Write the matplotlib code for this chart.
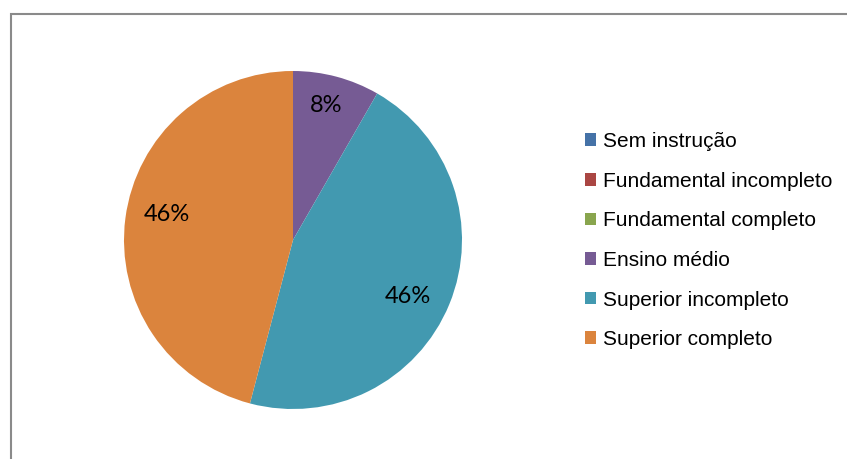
import numpy as np
import matplotlib.pyplot as plt
from matplotlib.patches import Rectangle

categorias = ['Sem instrução', 'Fundamental incompleto', 'Fundamental completo',
              'Ensino médio', 'Superior incompleto', 'Superior completo']
valores = [0, 0, 0, 8.3, 45.8, 45.9]
cores = ['#4572A7', '#AA4643', '#89A54E', '#765B94', '#4299B0', '#DB843D']

W, H = 847, 459
fig = plt.figure(figsize=(W / 100, H / 100), dpi=100)

# moldura cinza do grafico (vai alem da borda direita/inferior)
fig.patches.append(Rectangle((10.5, -20), 900, H - 13.5 + 20, transform=None,
                             fill=False, edgecolor='#8a8a8a', linewidth=1.5))

# posicao da pizza em pixels: centro (293, 240), raio 169
cx, cy, r = 293, 240, 169
ax = fig.add_axes([(cx - r) / W, (H - cy - r) / H, 2 * r / W, 2 * r / H])

def rotulo(pct):
    return f'{pct:.0f}%' if pct > 0.5 else ''

wedges, textos, pcts = ax.pie(valores, colors=cores, startangle=90, counterclock=False,
                              autopct=rotulo, pctdistance=0.78,
                              wedgeprops=dict(edgecolor='none'),
                              textprops=dict(family=['Lato', 'DejaVu Sans'], fontsize=17, color='black'))

# rotulos das fatias grandes um pouco girados no sentido horario, como no Excel
for w, t in zip(wedges, pcts):
    if not t.get_text():
        continue
    largura = w.theta2 - w.theta1
    if largura < 60:
        ang = np.deg2rad((w.theta1 + w.theta2) / 2 + 1)
        dist = 0.82
    else:
        ang = np.deg2rad((w.theta1 + w.theta2) / 2 - 4)
        dist = 0.76
    t.set_position((dist * np.cos(ang), dist * np.sin(ang)))

ax.set_xlim(-1, 1)
ax.set_ylim(-1, 1)
ax.set_aspect('equal')
ax.axis('off')

fig.legend(wedges, categorias, loc='upper left', bbox_to_anchor=(585 / W, 1 - 132 / H),
           frameon=False, prop=dict(family='Liberation Sans', size=15),
           handlelength=0.55, handleheight=0.55, handletextpad=0.3,
           labelspacing=0.99, borderpad=0, borderaxespad=0)

fig.savefig('out.png', dpi=100)
